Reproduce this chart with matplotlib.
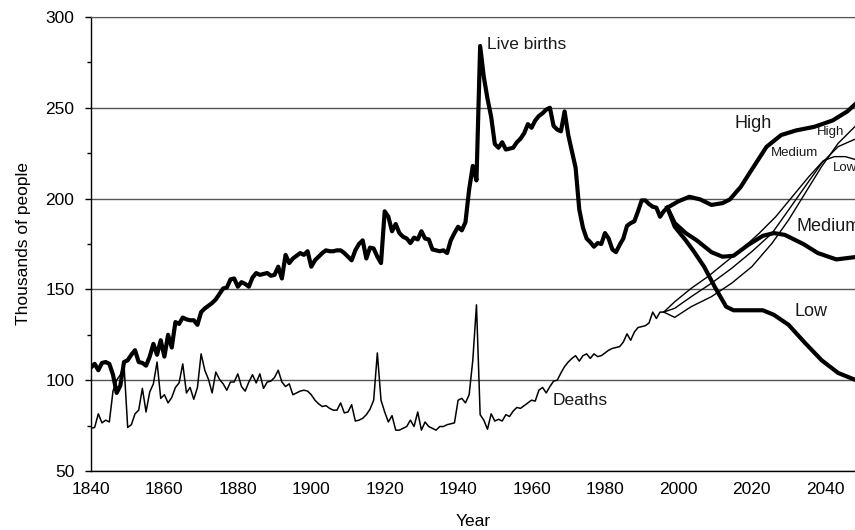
import matplotlib
matplotlib.use("Agg")
import matplotlib.pyplot as plt
from matplotlib.ticker import MultipleLocator

# Observed live births (thousands), 1840-1997
birth_years = list(range(1840, 1998))
births = [
    107, 109, 105.5, 109.5, 110, 109, 103, 93, 97, 110,          # 1840s
    111, 114, 116.5, 110, 109.5, 108, 113, 120, 114, 122,        # 1850s
    113, 125, 118, 132, 131, 134.5, 133.5, 133, 133, 130.5,      # 1860s
    137.5, 139.5, 141, 142.5, 144.5, 147.5, 150.5, 151, 155.5, 156,  # 1870s
    151.5, 154, 153, 151.5, 156.5, 159, 158, 158.5, 159, 157.5,  # 1880s
    158, 162.5, 156, 169, 164.5, 167, 168.5, 170, 169, 171,      # 1890s
    162.5, 166, 168, 170, 171.5, 171, 171, 171.5, 171.5, 170,    # 1900s
    168, 166, 171.5, 175, 177, 167, 173, 172.5, 168, 164.5,      # 1910s
    193, 190, 182, 186, 181, 179, 178, 175.5, 178.5, 177.5,      # 1920s
    182, 178, 177.5, 172, 171.5, 171, 171.5, 170, 177, 181,      # 1930s
    184.5, 182.5, 187, 205, 218, 210, 284, 267, 255, 245,        # 1940s
    230, 228, 231, 227, 227.5, 228, 231, 233, 236, 241,          # 1950s
    239, 243, 245.5, 247, 249, 250, 240, 238, 237, 248,          # 1960s
    235, 226, 217, 194, 184, 178, 176, 173.5, 175.5, 175,        # 1970s
    181, 178, 172, 170.5, 174.5, 178, 185, 186.5, 187.5, 193,    # 1980s
    199, 199, 197, 195.5, 195, 190, 193, 195,                    # 1990s
]

# Observed deaths (thousands), 1840-1996
death_years = list(range(1840, 1997))
deaths = [
    73.5, 74, 81.5, 76.5, 78, 77, 94, 100, 103, 108.5,           # 1840s
    74, 75.5, 81.5, 83.5, 95.5, 82.5, 93.5, 98, 110, 90,         # 1850s
    92, 87.5, 90.5, 96, 98.5, 109, 93, 96, 89.5, 96,             # 1860s
    114.5, 105.5, 100.5, 93, 104.5, 100.5, 98, 94.5, 99, 99,     # 1870s
    103.5, 96.5, 94, 99, 103, 98.5, 103.5, 95.5, 99, 99.5,       # 1880s
    101.5, 105.5, 99, 96.5, 98, 92, 93, 94, 94.5, 94,            # 1890s
    92, 89, 87, 85.5, 86, 84.5, 83.5, 83.5, 87.5, 82,            # 1900s
    82.5, 86.5, 77.5, 78, 79, 81, 84, 89, 115, 89,               # 1910s
    82.5, 77, 80.5, 72.5, 72.5, 73.5, 74.5, 78, 74.5, 82.5,      # 1920s
    72.5, 77, 74.5, 73.5, 72.5, 74.5, 74.5, 75.5, 76, 76.5,      # 1930s
    89, 90, 87.5, 92, 111, 141.5, 81, 78, 73, 81.5,              # 1940s
    77.5, 78.5, 77.5, 81, 80, 83, 85, 84.5, 86, 87.5,            # 1950s
    89, 88.5, 94.5, 96, 93, 96.5, 99.5, 100, 104, 107.5,         # 1960s
    110, 112, 113.5, 110.5, 113.5, 114.5, 112, 114.5, 113, 113.5,  # 1970s
    115, 116.5, 117.5, 118, 118.5, 121, 125.5, 122, 126.5, 129,  # 1980s
    129.5, 130, 131.5, 137.5, 134, 137.5, 137.5,                 # 1990s
]

# Projected births
proj_birth_years_high = [1997, 2000, 2003, 2006, 2009, 2012, 2014, 2017, 2020, 2024, 2028, 2032, 2037, 2042, 2046, 2049]
births_high = [195, 198.5, 201, 199.5, 196.5, 197.5, 199.5, 206.5, 216, 228.5, 235, 237.5, 239.5, 243, 248, 253.5]
proj_birth_years_med = [1997, 1999, 2002, 2005, 2009, 2012, 2015, 2019, 2023, 2026, 2029, 2034, 2038, 2043, 2049]
births_medium = [195, 186.5, 181, 177, 170.5, 168, 168.5, 174.5, 179.5, 181, 180, 175, 170, 166.5, 168]
proj_birth_years_low = [1997, 1999, 2002, 2004, 2007, 2010, 2013, 2015, 2019, 2023, 2026, 2030, 2034.5, 2039, 2043.5, 2049]
births_low = [195, 184.5, 177, 171.5, 162.5, 151, 140.5, 138.5, 138.5, 138.5, 136, 130.5, 120.5, 111, 104, 99.5]

# Projected deaths
proj_death_years = [1996, 1999, 2003.5, 2009, 2014.5, 2020, 2025.5, 2030, 2034.5, 2039, 2043.5, 2049]
deaths_high = [137.5, 134.6, 140.5, 146, 153.4, 162.5, 175.4, 188.2, 202.9, 217.6, 230.4, 241.5]
deaths_medium = [137.5, 139.6, 146, 153.4, 161.6, 170.8, 180.9, 193.7, 206.6, 219.4, 228.6, 233.5]
proj_death_years_low = [1996, 1999, 2003.5, 2008, 2012.5, 2017.5, 2022, 2026.5, 2031, 2035.5, 2039.5, 2042.5, 2045.5, 2049]
deaths_low = [137.5, 143.2, 150.6, 157, 164.4, 172.6, 180.9, 190, 201, 212, 220.9, 223.1, 223.1, 221]

plt.rcParams['font.family'] = ['Liberation Sans', 'DejaVu Sans']

fig = plt.figure(figsize=(8.55, 5.30), dpi=100)
ax = fig.add_axes([0.1064, 0.1113, 0.8936, 0.8567])

# observed series
ax.plot(birth_years, births, color='black', lw=3.0, solid_joinstyle='round', zorder=3)
ax.plot(death_years, deaths, color='black', lw=1.1, zorder=3)

# projections
for yrs, vals in [(proj_birth_years_high, births_high),
                  (proj_birth_years_med, births_medium),
                  (proj_birth_years_low, births_low)]:
    ax.plot(yrs, vals, color='black', lw=3.0, solid_joinstyle='round', zorder=3)
for yrs, vals in [(proj_death_years, deaths_high),
                  (proj_death_years, deaths_medium),
                  (proj_death_years_low, deaths_low)]:
    ax.plot(yrs, vals, color='black', lw=1.0, zorder=3)

# labels on the chart
txt = dict(color='#1a1a1a', va='center', ha='left')
ax.text(1948.0, 285, 'Live births', fontsize=12.5, **txt)
ax.text(1965.7, 89, 'Deaths', fontsize=12.5, **txt)
ax.text(2020.3, 241.6, 'High', fontsize=13, color='#1a1a1a', va='center', ha='center')
ax.text(2032.2, 184.4, 'Medium', fontsize=13, clip_on=False, **txt)
ax.text(2031.7, 137.6, 'Low', fontsize=13, **txt)
ax.text(2037.6, 236.8, 'High', fontsize=9.5, **txt)
ax.text(2025.3, 225.3, 'Medium', fontsize=9.5, **txt)
ax.text(2042.2, 216.7, 'Low', fontsize=9.5, **txt)

ax.set_xlim(1840, 2048.1)
ax.set_ylim(50, 300)
ax.set_xticks(range(1840, 2041, 20))
ax.yaxis.set_major_locator(MultipleLocator(50))
ax.yaxis.set_minor_locator(MultipleLocator(25))
ax.tick_params(axis='x', length=0, pad=8, labelsize=12.5)
ax.tick_params(axis='y', which='major', length=4, width=1, pad=8, labelsize=12.5)
ax.tick_params(axis='y', which='minor', length=3, width=1)

ax.yaxis.grid(True, color='#555555', lw=1.0)
ax.set_axisbelow(True)
ax.spines['right'].set_visible(False)
ax.spines['top'].set_color('#555555')
ax.spines['left'].set_linewidth(1.0)
ax.spines['bottom'].set_linewidth(1.0)

ax.set_xlabel('Year', fontsize=12.5, labelpad=12)
ax.set_ylabel('Thousands of people', fontsize=12.5, labelpad=10)

fig.savefig('out.png', dpi=100)
